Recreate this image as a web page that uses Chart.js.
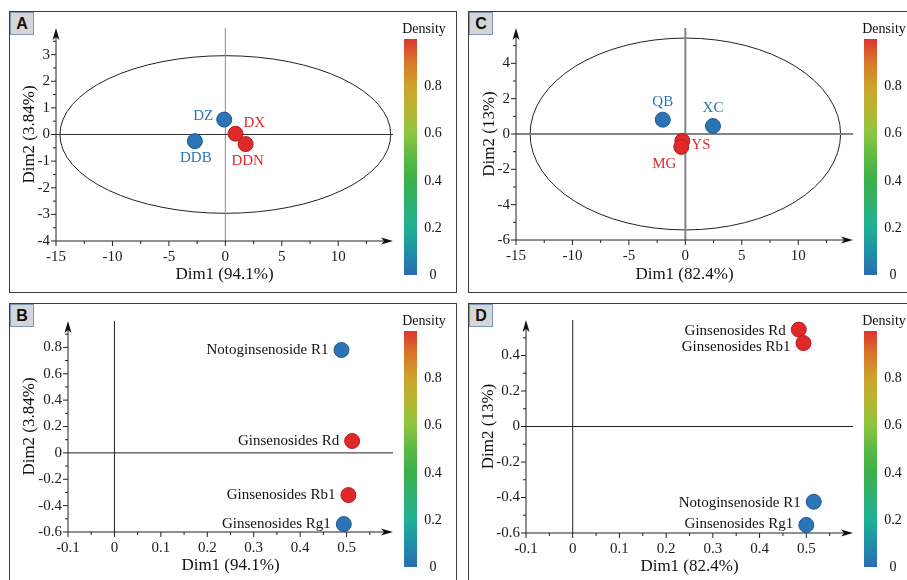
<!DOCTYPE html>
<html lang="en">
<head>
<meta charset="UTF-8" />
<title>PCA biplots</title>
<script src="https://cdn.jsdelivr.net/npm/chart.js"></script>
<style>
  body { margin: 0; background: #fff; }
  #fig {
    position: relative; width: 907px; height: 580px; overflow: hidden; background: #fff;
    font-family: 'Liberation Serif', 'Times New Roman', serif;
  }
  .frame { position: absolute; border: 1.5px solid #3c3c3c; box-sizing: border-box; }
  .tag {
    position: absolute; width: 24px; height: 23px; z-index: 3;
    background: #d6d6d6; border: 1px solid #7f95b8; box-sizing: border-box;
    font: bold 16px 'Liberation Sans', Arial, sans-serif; color: #111;
    text-align: center; line-height: 22px;
  }
  canvas { position: absolute; z-index: 2; }
  .cbar {
    position: absolute; width: 13px;
    background: linear-gradient(to top, #2b6cb2 0%, #1f90a6 10%, #1fb093 20%, #30b070 30%,
      #3ab14a 40%, #5bb944 50%, #8cc640 60%, #b5b733 70%, #cda42b 80%, #d8782a 90%, #dc352e 100%);
  }
  .clab {
    position: absolute; width: 60px; height: 16px; line-height: 16px; z-index: 3;
    font-size: 14px; color: #111; text-align: center; white-space: nowrap;
  }
</style>
</head>
<body>
<div id="fig">
  <div class="frame" style="left:9px;top:11px;width:448px;height:282px"></div>
  <div class="frame" style="left:468px;top:11px;width:460px;height:282px"></div>
  <div class="frame" style="left:9px;top:303px;width:448px;height:300px"></div>
  <div class="frame" style="left:468px;top:303px;width:460px;height:300px"></div>
  <div class="tag" style="left:10px;top:12px">A</div>
  <div class="tag" style="left:469px;top:12px">C</div>
  <div class="tag" style="left:10px;top:304px">B</div>
  <div class="tag" style="left:469px;top:304px">D</div>
  <canvas id="cA" width="446" height="280" style="left:10px;top:12px"></canvas>
  <canvas id="cC" width="437" height="280" style="left:470px;top:12px"></canvas>
  <canvas id="cB" width="446" height="276" style="left:10px;top:304px"></canvas>
  <canvas id="cD" width="437" height="276" style="left:470px;top:304px"></canvas>
</div>

<script>
  // A: samples, Dim1 (94.1%) / Dim2 (3.84%)
  const namesA = ['DZ', 'DDB', 'DX', 'DDN'];
  const dim1A = [-0.1, -2.7, 0.9, 1.8];
  const dim2A = [0.56, -0.25, 0.03, -0.36];
  const densA = [0, 0, 1, 1];

  // C: samples, Dim1 (82.4%) / Dim2 (13%)
  const namesC = ['QB', 'XC', 'YS', 'MG'];
  const dim1C = [-2.0, 2.45, -0.27, -0.36];
  const dim2C = [0.81, 0.45, -0.39, -0.73];
  const densC = [0, 0, 1, 1];

  // B: variables
  const namesB = ['Notoginsenoside R1', 'Ginsenosides Rd', 'Ginsenosides Rb1', 'Ginsenosides Rg1'];
  const dim1B = [0.489, 0.512, 0.504, 0.494];
  const dim2B = [0.78, 0.09, -0.32, -0.54];
  const densB = [0, 1, 1, 0];

  // D: variables
  const namesD = ['Ginsenosides Rd', 'Ginsenosides Rb1', 'Notoginsenoside R1', 'Ginsenosides Rg1'];
  const dim1D = [0.484, 0.494, 0.516, 0.5];
  const dim2D = [0.546, 0.47, -0.424, -0.555];
  const densD = [1, 1, 0, 0];

  // confidence ellipses: centre x, centre y, half-width, half-height
  const ellipseA = [0, 0, 14.65, 2.96];
  const ellipseC = [0, 0, 13.75, 5.43];

  const ticksX_AC = [-15, -10, -5, 0, 5, 10];
  const minorX_AC = [-12.5, -7.5, -2.5, 2.5, 7.5, 12.5];
  const ticksY_A = [-4, -3, -2, -1, 0, 1, 2, 3];
  const minorY_A = [-3.5, -2.5, -1.5, -0.5, 0.5, 1.5, 2.5, 3.5];
  const ticksY_C = [-6, -4, -2, 0, 2, 4];
  const minorY_C = [-5, -3, -1, 1, 3, 5];
  const ticksX_BD = [-0.1, 0, 0.1, 0.2, 0.3, 0.4, 0.5];
  const minorX_BD = [-0.05, 0.05, 0.15, 0.25, 0.35, 0.45, 0.55];
  const ticksY_B = [-0.6, -0.4, -0.2, 0, 0.2, 0.4, 0.6, 0.8];
  const minorY_B = [-0.5, -0.3, -0.1, 0.1, 0.3, 0.5, 0.7, 0.9];
  const ticksY_D = [-0.6, -0.4, -0.2, 0, 0.2, 0.4];
  const minorY_D = [-0.5, -0.3, -0.1, 0.1, 0.3, 0.5];
  const densityTicks = [0, 0.2, 0.4, 0.6, 0.8];

  const SERIF = "'Liberation Serif', 'Times New Roman', serif";
  const BLUE = '#2b75b6', RED = '#e02a2a';
  const fill = d => d >= 0.5 ? RED : BLUE;
  const edge = d => d >= 0.5 ? '#b31f1f' : '#1d5892';

  const decor = {
    id: 'decor',
    beforeDatasetsDraw(chart, args, o) {
      const { ctx, chartArea: ca, scales: { x, y } } = chart;
      const line = (a, b, c, d) => { ctx.beginPath(); ctx.moveTo(a, b); ctx.lineTo(c, d); ctx.stroke(); };
      ctx.save();
      if (o.ellipse) {
        const [cx, cy, rx, ry] = o.ellipse;
        const px = x.getPixelForValue(cx), py = y.getPixelForValue(cy);
        ctx.strokeStyle = '#222'; ctx.lineWidth = 1;
        ctx.beginPath();
        ctx.ellipse(px, py, x.getPixelForValue(cx + rx) - px, py - y.getPixelForValue(cy + ry), 0, 0, Math.PI * 2);
        ctx.stroke();
      }
      const x0 = x.getPixelForValue(0), y0 = y.getPixelForValue(0);
      ctx.lineWidth = o.crossWidth;
      ctx.strokeStyle = o.vColor; line(x0, ca.top, x0, ca.bottom);
      ctx.strokeStyle = o.hColor; line(ca.left, y0, ca.right, y0);

      ctx.strokeStyle = '#222'; ctx.fillStyle = '#111'; ctx.lineWidth = 1;
      line(ca.left, ca.bottom, ca.right - 6, ca.bottom);
      line(ca.left, ca.bottom, ca.left, ca.top + 6);
      o.majorX.forEach(v => { const p = x.getPixelForValue(v); line(p, ca.bottom, p, ca.bottom + 5); });
      o.minorX.forEach(v => { const p = x.getPixelForValue(v); line(p, ca.bottom, p, ca.bottom + 3); });
      o.majorY.forEach(v => { const p = y.getPixelForValue(v); line(ca.left - 5, p, ca.left, p); });
      o.minorY.forEach(v => { const p = y.getPixelForValue(v); line(ca.left - 3, p, ca.left, p); });
      // arrow heads
      ctx.beginPath();
      ctx.moveTo(ca.right, ca.bottom); ctx.lineTo(ca.right - 12, ca.bottom - 3.5);
      ctx.lineTo(ca.right - 9, ca.bottom); ctx.lineTo(ca.right - 12, ca.bottom + 3.5); ctx.closePath(); ctx.fill();
      ctx.beginPath();
      ctx.moveTo(ca.left, ca.top); ctx.lineTo(ca.left - 3.5, ca.top + 12);
      ctx.lineTo(ca.left, ca.top + 9); ctx.lineTo(ca.left + 3.5, ca.top + 12); ctx.closePath(); ctx.fill();
      ctx.restore();
    },
    afterDatasetsDraw(chart, args, o) {
      const { ctx, scales: { x, y } } = chart;
      const pts = chart.data.datasets[0].data;
      ctx.save();
      ctx.font = '15px ' + SERIF;
      ctx.textBaseline = 'middle';
      pts.forEach((p, i) => {
        const pl = o.place[i];
        ctx.fillStyle = o.colored ? fill(o.dens[i]) : '#111';
        ctx.textAlign = pl[2];
        ctx.fillText(o.names[i], x.getPixelForValue(p.x) + pl[0], y.getPixelForValue(p.y) + pl[1]);
      });
      ctx.restore();
    }
  };

  function panel(id, p) {
    const cv = document.getElementById(id);
    const tickFont = { family: SERIF, size: 15 };
    const titleFont = { family: SERIF, size: 17 };
    new Chart(cv, {
      type: 'scatter',
      data: {
        datasets: [{
          data: p.xs.map((v, i) => ({ x: v, y: p.ys[i] })),
          pointRadius: 7.5, pointHoverRadius: 7.5, borderWidth: 1,
          pointBackgroundColor: p.dens.map(fill),
          pointBorderColor: p.dens.map(edge),
          clip: false
        }]
      },
      options: {
        responsive: false, animation: false, devicePixelRatio: 1,
        events: [],
        layout: { padding: { left: 0, bottom: 0, top: p.area[1], right: cv.width - p.area[2] } },
        plugins: {
          legend: { display: false }, tooltip: { enabled: false },
          decor: {
            ellipse: p.ellipse, crossWidth: p.crossWidth, vColor: p.vColor, hColor: p.hColor,
            majorX: p.tx, minorX: p.mx, majorY: p.ty, minorY: p.my,
            names: p.names, dens: p.dens, place: p.place, colored: p.colored
          }
        },
        scales: {
          x: {
            type: 'linear', min: p.xr[0], max: p.xr[1],
            afterBuildTicks: s => { s.ticks = p.tx.map(v => ({ value: v })); },
            afterFit: s => { s.height = cv.height - p.area[3]; },
            grid: { display: false, drawTicks: false }, border: { display: false },
            ticks: { autoSkip: false, maxRotation: 0, padding: 7, color: '#1a1a1a', font: tickFont, callback: v => String(v) },
            title: { display: true, text: p.xTitle, color: '#111', font: titleFont, padding: { top: 0, bottom: p.xtPad } }
          },
          y: {
            type: 'linear', min: p.yr[0], max: p.yr[1],
            afterBuildTicks: s => { s.ticks = p.ty.map(v => ({ value: v })); },
            afterFit: s => { s.width = p.area[0]; },
            grid: { display: false, drawTicks: false }, border: { display: false },
            ticks: { autoSkip: false, padding: 6, color: '#1a1a1a', font: tickFont, callback: v => String(v) },
            title: { display: true, text: p.yTitle, color: '#111', font: titleFont, padding: { top: p.ytPad, bottom: 0 } }
          }
        }
      },
      plugins: [decor]
    });
  }

  function label(text, cx, cy) {
    const l = document.createElement('div');
    l.className = 'clab'; l.textContent = text;
    l.style.left = Math.round(cx - 30) + 'px'; l.style.top = Math.round(cy - 8) + 'px';
    document.getElementById('fig').appendChild(l);
  }

  function colorbar(left, top, h) {
    const bar = document.createElement('div');
    bar.className = 'cbar';
    bar.style.left = left + 'px'; bar.style.top = top + 'px'; bar.style.height = h + 'px';
    document.getElementById('fig').appendChild(bar);
    label('Density', left + 20, top - 10);
    densityTicks.forEach(v => label(String(v), left + 29, top + (1 - v) * h));
  }

  panel('cA', {
    xs: dim1A, ys: dim2A, dens: densA, names: namesA, colored: true,
    place: [[-11, -4, 'right'], [1, 17, 'center'], [8, -11, 'left'], [2, 17, 'center']],
    xr: [-15, 14.85], yr: [-4, 4], area: [46, 16, 383, 229],
    tx: ticksX_AC, mx: minorX_AC, ty: ticksY_A, my: minorY_A,
    ellipse: ellipseA, crossWidth: 1, vColor: '#8a8a8a', hColor: '#333',
    xTitle: 'Dim1 (94.1%)', yTitle: 'Dim2 (3.84%)', xtPad: 7, ytPad: 9
  });
  panel('cC', {
    xs: dim1C, ys: dim2C, dens: densC, names: namesC, colored: true,
    place: [[0, -18, 'center'], [0, -18, 'center'], [9, 4, 'left'], [-17, 17, 'center']],
    xr: [-15, 14.85], yr: [-6, 6], area: [46, 16, 383, 228],
    tx: ticksX_AC, mx: minorX_AC, ty: ticksY_C, my: minorY_C,
    ellipse: ellipseC, crossWidth: 2, vColor: '#858585', hColor: '#858585',
    xTitle: 'Dim1 (82.4%)', yTitle: 'Dim2 (13%)', xtPad: 7, ytPad: 9
  });
  panel('cB', {
    xs: dim1B, ys: dim2B, dens: densB, names: namesB, colored: false,
    place: [[-13, 0, 'right'], [-13, 0, 'right'], [-13, 0, 'right'], [-13, 0, 'right']],
    xr: [-0.1, 0.6], yr: [-0.6, 1.0], area: [58, 17, 383, 228],
    tx: ticksX_BD, mx: minorX_BD, ty: ticksY_B, my: minorY_B,
    ellipse: null, crossWidth: 1, vColor: '#222', hColor: '#222',
    xTitle: 'Dim1 (94.1%)', yTitle: 'Dim2 (3.84%)', xtPad: 4, ytPad: 9
  });
  panel('cD', {
    xs: dim1D, ys: dim2D, dens: densD, names: namesD, colored: false,
    place: [[-13, 1, 'right'], [-13, 4, 'right'], [-13, 1, 'right'], [-13, -1, 'right']],
    xr: [-0.1, 0.6], yr: [-0.6, 0.6], area: [56, 16, 383, 229],
    tx: ticksX_BD, mx: minorX_BD, ty: ticksY_D, my: minorY_D,
    ellipse: null, crossWidth: 1, vColor: '#222', hColor: '#222',
    xTitle: 'Dim1 (82.4%)', yTitle: 'Dim2 (13%)', xtPad: 3, ytPad: 8
  });

  colorbar(404, 39, 236);
  colorbar(864, 39, 236);
  colorbar(404, 331, 236);
  colorbar(864, 331, 236);
</script>
</body>
</html>
